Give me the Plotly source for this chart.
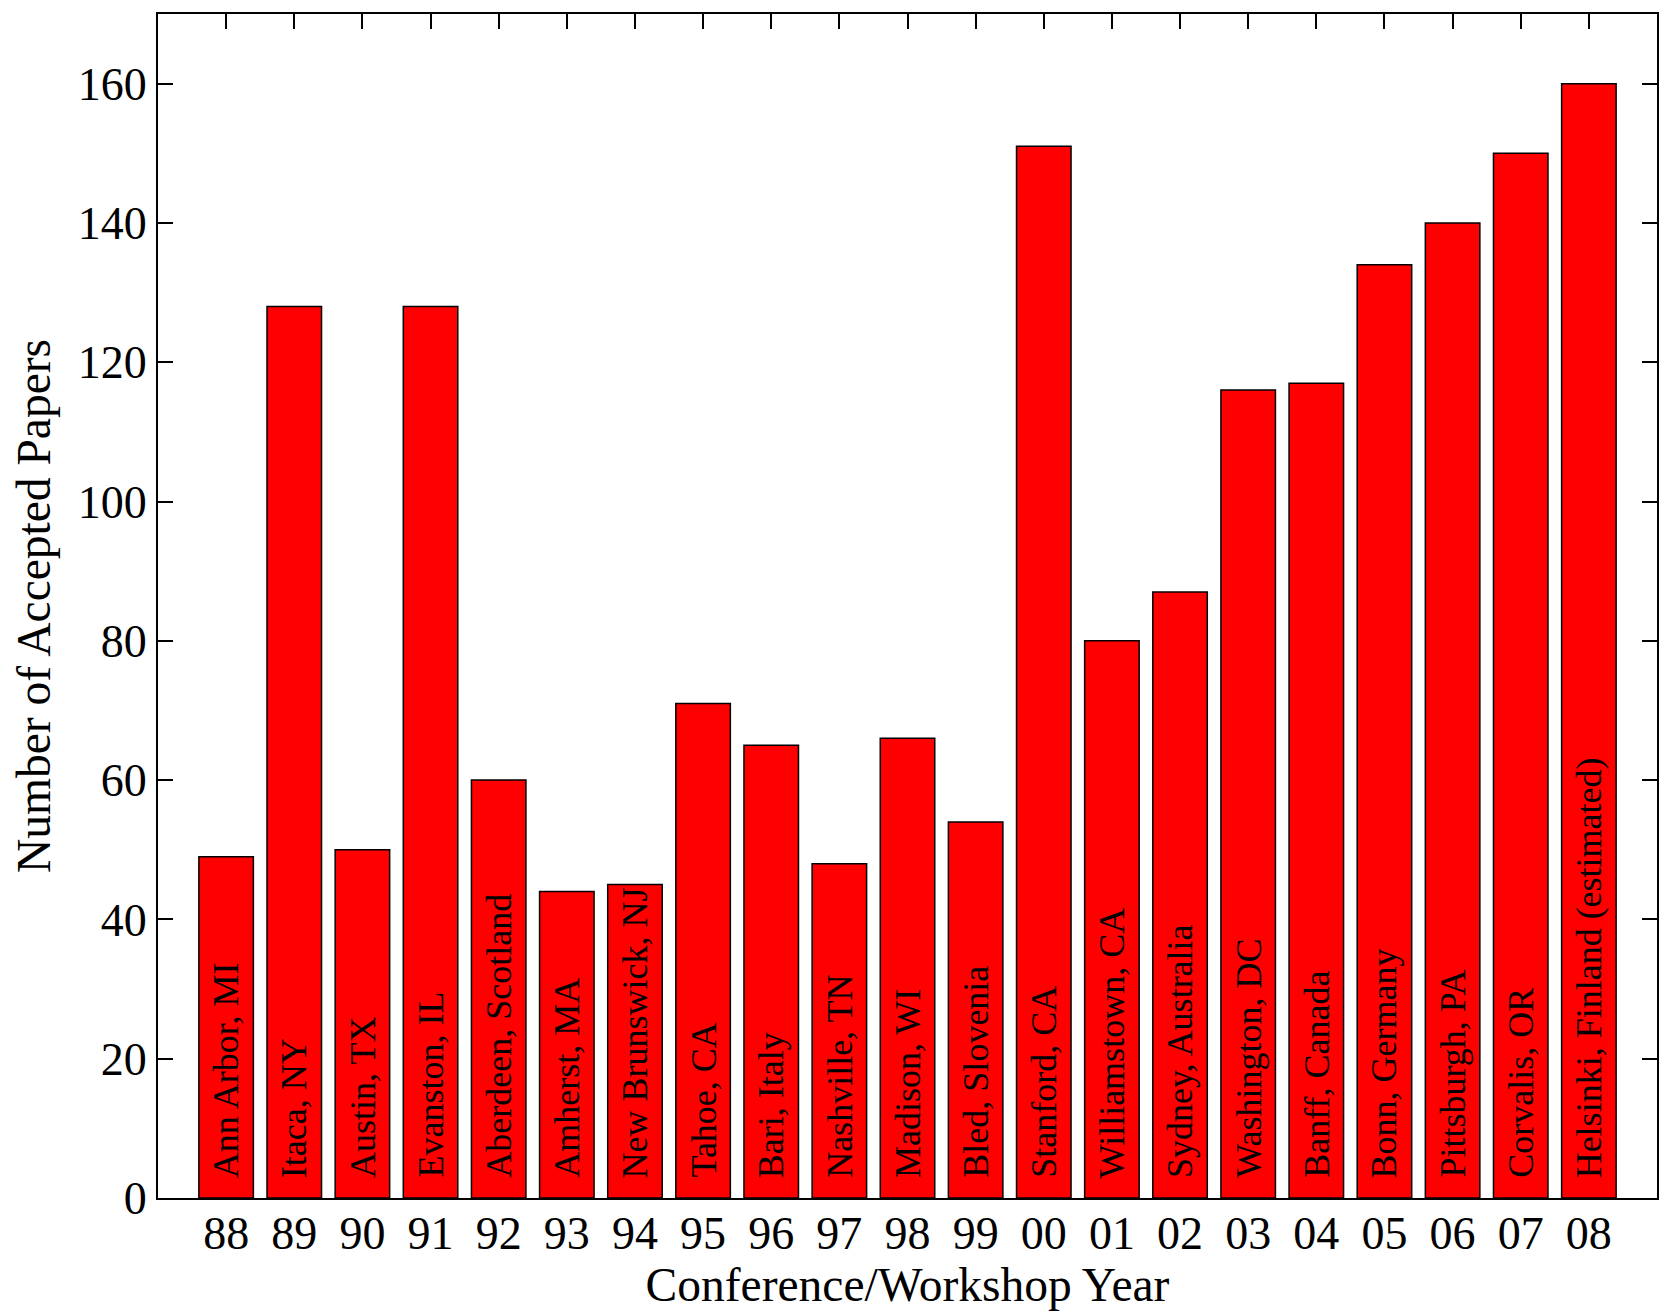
import plotly.graph_objects as go

years = ["88", "89", "90", "91", "92", "93", "94", "95", "96", "97", "98",
         "99", "00", "01", "02", "03", "04", "05", "06", "07", "08"]
papers = [49, 128, 50, 128, 60, 44, 45, 71, 65, 48, 66, 54, 151, 80, 87,
          116, 117, 134, 140, 150, 160]
locations = ["Ann Arbor, MI", "Itaca, NY", "Austin, TX", "Evanston, IL",
             "Aberdeen, Scotland", "Amherst, MA", "New Brunswick, NJ",
             "Tahoe, CA", "Bari, Italy", "Nashville, TN", "Madison, WI",
             "Bled, Slovenia", "Stanford, CA", "Williamstown, CA",
             "Sydney, Australia", "Washington, DC", "Banff, Canada",
             "Bonn, Germany", "Pittsburgh, PA", "Corvalis, OR",
             "Helsinki, Finland (estimated)"]
y_ticks = [0, 20, 40, 60, 80, 100, 120, 140, 160]

FONT = "Liberation Serif, Times New Roman, serif"
xpos = list(range(1, len(years) + 1))

fig = go.Figure()
fig.add_trace(go.Bar(
    x=xpos, y=papers, width=0.8,
    marker=dict(color="#ff0000", line=dict(color="black", width=1.5)),
    showlegend=False, hoverinfo="skip",
))

for xi, loc in zip(xpos, locations):
    fig.add_annotation(
        x=xi, y=0, xref="x", yref="y", text=loc, textangle=-90,
        showarrow=False, xanchor="center", yanchor="bottom", yshift=18,
        font=dict(family=FONT, size=36, color="black"),
    )

fig.update_layout(
    width=1661, height=1314,
    margin=dict(l=158, r=4, t=14, b=116),
    paper_bgcolor="white", plot_bgcolor="white",
    font=dict(family=FONT, size=46, color="black"),
)
fig.update_xaxes(
    range=[0, 22], tickvals=xpos, ticktext=years,
    ticks="inside", ticklen=15, tickwidth=2, tickcolor="black",
    showline=True, linecolor="black", linewidth=2, mirror="ticks",
    showgrid=False, zeroline=False, layer="below traces",
    tickfont=dict(family=FONT, size=46), ticklabelstandoff=-6,
    title=dict(text="Conference/Workshop Year", font=dict(family=FONT, size=47.5), standoff=0),
    automargin=False,
)
fig.update_yaxes(
    range=[0, 170], tickvals=y_ticks,
    ticks="inside", ticklen=15, tickwidth=2, tickcolor="black",
    showline=True, linecolor="black", linewidth=2, mirror="ticks",
    showgrid=False, zeroline=False,
    tickfont=dict(family=FONT, size=46),
    title=dict(text="Number of Accepted Papers", font=dict(family=FONT, size=47.5), standoff=12),
    automargin=False,
)

fig.write_html(
    "out.html",
    config={"displayModeBar": False},
    post_script="document.body.style.margin='0';document.body.style.overflow='hidden';",
)
